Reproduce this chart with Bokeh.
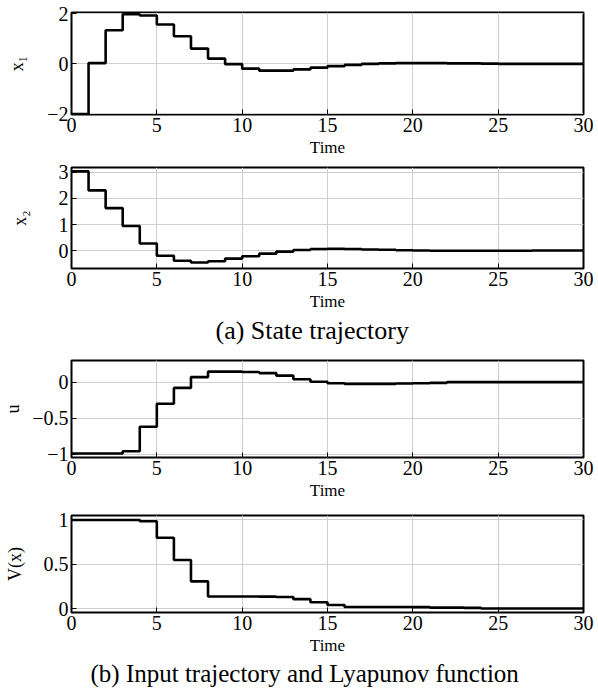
from bokeh.plotting import figure
from bokeh.layouts import column
from bokeh.models import Range1d, FixedTicker, Title
from bokeh.embed import file_html
from bokeh.resources import INLINE

# ---- data (sampled at t = 0,1,...,30, zero-order hold) ----
t = list(range(31))
x1 = [-2.0, 0.03, 1.34, 1.98, 1.93, 1.57, 1.10, 0.61, 0.21, -0.01,
      -0.19, -0.27, -0.27, -0.22, -0.15, -0.09, -0.04, 0.0, 0.02, 0.03,
      0.03, 0.03, 0.02, 0.02, 0.01, 0.0, 0.0, 0.0, 0.0, 0.0, 0.0]
x2 = [3.04, 2.31, 1.63, 0.94, 0.27, -0.20, -0.39, -0.46, -0.41, -0.31,
      -0.22, -0.12, -0.04, 0.02, 0.06, 0.07, 0.06, 0.04, 0.03, 0.01,
      0.0, -0.01, -0.01, -0.01, -0.01, -0.01, -0.01, 0.0, 0.0, 0.0, 0.0]
u = [-0.99, -0.99, -0.99, -0.96, -0.62, -0.30, -0.08, 0.07, 0.145, 0.145,
     0.14, 0.125, 0.09, 0.04, 0.005, -0.015, -0.025, -0.025, -0.025, -0.02,
     -0.015, -0.01, 0.0, 0.0, 0.0, 0.0, 0.0, 0.0, 0.0, 0.0, 0.0]
V = [1.0, 1.0, 1.0, 1.0, 0.985, 0.80, 0.55, 0.31, 0.14, 0.14,
     0.14, 0.138, 0.135, 0.11, 0.075, 0.045, 0.022, 0.022, 0.022, 0.022,
     0.02, 0.015, 0.015, 0.012, 0.005, 0.005, 0.005, 0.005, 0.005, 0.005, 0.005]

x_ticks = [0, 5, 10, 15, 20, 25, 30]
x1_ticks = [-2, 0, 2]
x2_ticks = [0, 1, 2, 3]
u_ticks = [-1, -0.5, 0]
V_ticks = [0, 0.5, 1]

FONT = "Liberation Serif"


def fmt(v):
    s = str(abs(v))
    return ("\u2212" + s) if v < 0 else s


def make_panel(y, yrange, yticks, ylabel, label_standoff, fh, top, bottom):
    p = figure(frame_width=512, frame_height=fh,
               min_border_left=69, min_border_right=12,
               min_border_top=top, min_border_bottom=bottom,
               x_range=Range1d(0, 30), y_range=Range1d(*yrange),
               output_backend="svg", toolbar_location=None)
    p.step(t, y, mode="after", line_color="black", line_width=2.6)
    p.outline_line_color = "black"
    p.outline_line_width = 2
    p.xaxis.ticker = FixedTicker(ticks=x_ticks)
    p.yaxis.ticker = FixedTicker(ticks=yticks)
    p.yaxis.major_label_overrides = {v: fmt(v) for v in yticks}
    for ax in (p.xaxis, p.yaxis):
        ax.axis_line_color = None
        ax.major_tick_in = 5
        ax.major_tick_out = 0
        ax.minor_tick_line_color = None
        ax.major_tick_line_color = "black"
        ax.major_label_text_font = FONT
        ax.major_label_text_font_size = "20px"
        ax.major_label_text_color = "black"
        ax.axis_label_text_font = FONT
        ax.axis_label_text_font_style = "normal"
        ax.axis_label_text_color = "black"
    p.xaxis.major_label_standoff = 3
    p.yaxis.major_label_standoff = 3
    p.xaxis.axis_label = "Time"
    p.xaxis.axis_label_text_font_size = "17px"
    p.xaxis.axis_label_standoff = 3
    p.yaxis.axis_label = ylabel
    p.yaxis.axis_label_text_font_size = "18px"
    p.yaxis.axis_label_standoff = label_standoff
    p.grid.grid_line_color = "#cfcfcf"
    p.grid.grid_line_width = 1
    p.background_fill_color = "white"
    p.border_fill_color = "white"
    return p


p1 = make_panel(x1, (-2.02, 2.05), x1_ticks, "x\u2081", 17, 102, 12, 47)
p2 = make_panel(x2, (-0.69, 3.19), x2_ticks, "x\u2082", 26, 101, 6, 89)
p3 = make_panel(u, (-1.046, 0.30), u_ticks, "u", 6, 97, 3, 47)
p4 = make_panel(V, (-0.04, 1.05), V_ticks, "V(x)", 16, 97, 11, 76)

p2.add_layout(Title(text="(a) State trajectory", text_font=FONT,
                    text_font_size="26px", text_font_style="normal",
                    text_color="black", align="left", offset=144,
                    standoff=0), "below")
p4.add_layout(Title(text="(b) Input trajectory and Lyapunov function",
                    text_font=FONT, text_font_size="25px",
                    text_font_style="normal", text_color="black",
                    align="left", offset=19, standoff=0), "below")

layout = column(p1, p2, p3, p4, spacing=0)
open("out.html", "w").write(file_html(layout, INLINE))
